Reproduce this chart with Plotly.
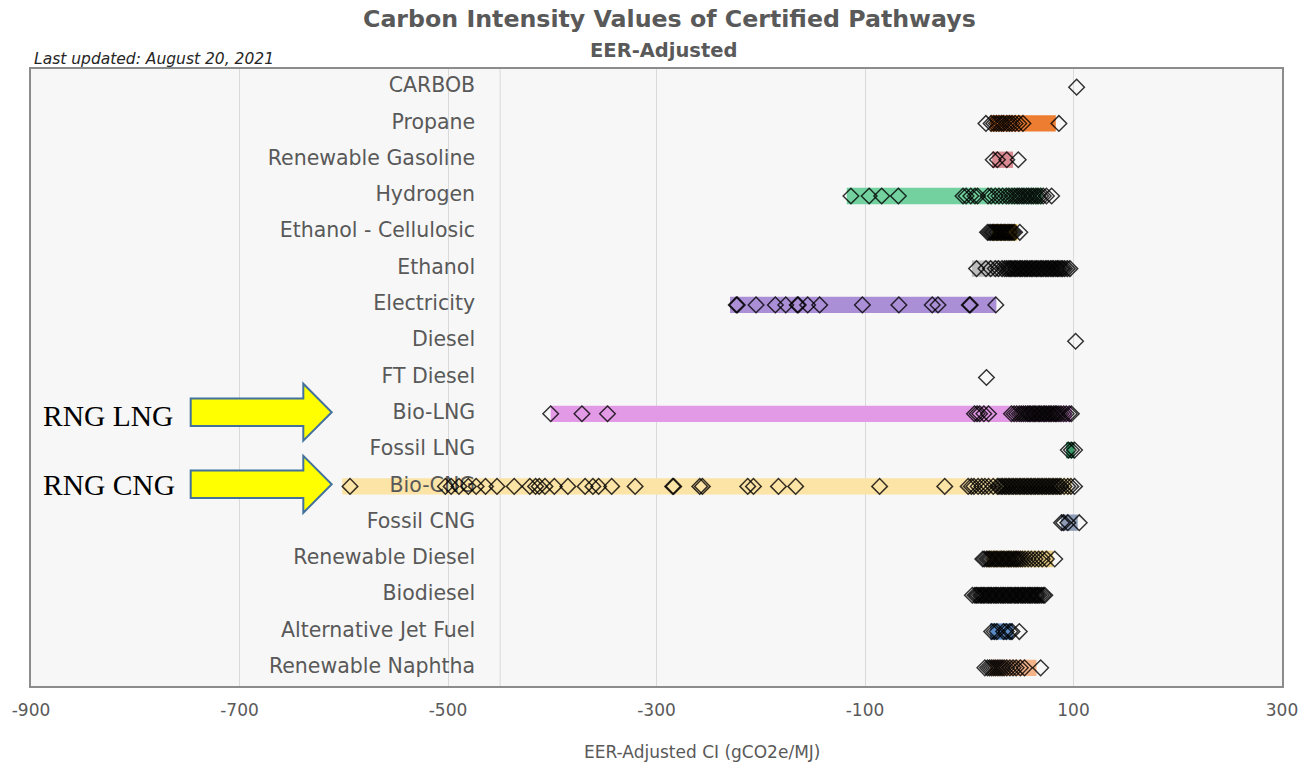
import plotly.graph_objects as go

# ---------------- data ----------------
categories = ["CARBOB", "Propane", "Renewable Gasoline", "Hydrogen", "Ethanol - Cellulosic",
              "Ethanol", "Electricity", "Diesel", "FT Diesel", "Bio-LNG", "Fossil LNG",
              "Bio-CNG", "Fossil CNG", "Renewable Diesel", "Biodiesel",
              "Alternative Jet Fuel", "Renewable Naphtha"]

bar_start = [None, 20, 22, -117.5, 22, 2.5, -229.5, None, None, -401.5, 93, -601.5, 88, 16.5, 4, 20, 20]
bar_end = [None, 83, 42, 70.5, 46, 98, 26, None, None, 98.5, 101, 98.5, 104, 80.5, 72, 42, 64.5]
bar_colors = [None, "#ED7D31", "#DA8A93", "#72D19F", "#E8B32A", "#BDBDBD", "#AA8ED6", None, None,
              "#E39AE6", "#3A9A6A", "#FCE3A6", "#8E9CB8", "#E9CC83", "#9A9A9A", "#5B8BC5", "#F3B48A"]

pts_carbob = [103]
pts_propane = [16, 21, 23.5, 26, 28.5, 31, 33, 36, 38.5, 41, 44, 47.5, 51.5, 86]
pts_ren_gasoline = [23, 27, 36, 47]
pts_hydrogen = [-113.5, -96, -84, -68, -6, -3, 1.5, 5.5, 8, 18, 21, 25, 28.5, 32, 35.5, 38, 41, 43.5,
                46, 48, 50.5, 52.5, 55, 57, 59.5, 61.5, 64, 66, 68.5, 71, 74, 79]
pts_eth_cellulosic = [17.5, 19, 20.5, 22, 23, 24.5, 26, 27, 28.5, 30, 31, 32.5, 34, 35, 36.5, 38, 39,
                      40.5, 42, 43.5, 48.5]
pts_ethanol = [7, 16, 20.5, 25, 28, 31.5, 34, 36, 38, 39.5, 41, 43, 44.5, 46, 48, 49.5, 51, 53, 54.5,
               56, 58, 59.5, 61, 63, 64.5, 66, 68, 69.5, 71, 73, 74.5, 76, 78, 79.5, 81, 83, 84.5,
               86, 88, 89.5, 91.5, 94, 96.5]
pts_electricity = [-223.5, -222.5, -204.5, -186, -176, -165, -164, -155, -143.5, -102.5, -67.5,
                   -35.5, -30, 0, 1, 25.5]
pts_diesel = [102]
pts_ft_diesel = [16.5]
pts_bio_lng = [-401.5, -371.5, -347, 5, 7.5, 10, 14, 18.5, 40.5, 43, 45.5, 48, 50, 52, 54, 56, 57.5,
               59, 61, 62.5, 64, 66, 67.5, 69, 71, 72.5, 74, 76, 77.5, 79, 81, 82.5, 84, 86, 88,
               90.5, 93, 96, 98]
pts_fossil_lng = [95, 98, 101]
pts_bio_cng = [-594, -502.5, -497, -489.5, -480.5, -473, -464, -453, -436.5, -421.5, -416, -412.5,
               -407, -398, -385, -368.5, -361, -355.5, -343, -320.5, -284.5, -283.5, -258.5, -256,
               -212.5, -207, -183, -166.5, -86, -23.5, -1, 2, 4.5, 8.5, 12, 15, 18.5, 23, 27, 28.5,
               30.5, 32, 34, 35.5, 37.5, 39, 41, 42.5, 44.5, 46, 48, 49.5, 51.5, 53, 55, 56.5, 58.5,
               60, 62, 63.5, 65.5, 67, 69, 70.5, 72.5, 74, 76, 77.5, 79.5, 81, 83, 84.5, 86.5, 88,
               91, 94.5, 97.5, 101]
pts_fossil_cng = [88.5, 90.5, 94.5, 105.5]
pts_ren_diesel = [13, 14.5, 16.5, 18, 19.5, 21, 23, 24.5, 26, 27.5, 29.5, 31, 32.5, 34, 36, 37.5, 39,
                  40.5, 42.5, 44, 45.5, 47, 49, 51, 53.5, 56.5, 59.5, 63, 66.5, 70, 74, 82]
pts_biodiesel = [3, 5.5, 7, 8.5, 10.5, 12, 13.5, 15, 17, 18.5, 20, 21.5, 23.5, 25, 26.5, 28, 30,
                 31.5, 33, 34.5, 36.5, 38, 39.5, 41, 43, 44.5, 46, 47.5, 49.5, 51, 52.5, 54, 56,
                 57.5, 59, 60.5, 62.5, 64, 65.5, 67, 69, 71, 72.5]
pts_ajf = [21.5, 24, 26.5, 33, 35.5, 39, 41, 48]
pts_ren_naphtha = [15, 17.5, 19.5, 21.5, 23.5, 25.5, 27.5, 29.5, 31.5, 33.5, 36, 39, 42, 45, 49, 53,
                   68.5]

point_lists = [pts_carbob, pts_propane, pts_ren_gasoline, pts_hydrogen, pts_eth_cellulosic,
               pts_ethanol, pts_electricity, pts_diesel, pts_ft_diesel, pts_bio_lng,
               pts_fossil_lng, pts_bio_cng, pts_fossil_cng, pts_ren_diesel, pts_biodiesel,
               pts_ajf, pts_ren_naphtha]

x_ticks = [-900, -700, -500, -300, -100, 100, 300]
x_tick_labels = ["-900", "-700", "-500", "-300", "-100", "100", "300"]

title_text = "Carbon Intensity Values of Certified Pathways"
subtitle_text = "EER-Adjusted"
updated_text = "Last updated: August 20, 2021"
x_title = "EER-Adjusted CI (gCO2e/MJ)"
label_x = -474
extra_line_x = -450

# ---------------- layout helpers ----------------
W, H = 1310, 763
ML, MR, MT, MB = 31, 28, 69, 77
PW = W - ML - MR
PH = H - MT - MB


def paper(px, py):
    return (px - ML) / PW, (H - MB - py) / PH


def arrow_path(x0, x1, tip, yc, sh, hh):
    pts = [(x0, yc - sh), (x1, yc - sh), (x1, yc - hh), (tip, yc), (x1, yc + hh),
           (x1, yc + sh), (x0, yc + sh)]
    s = ""
    for i, (a, b) in enumerate(pts):
        u, v = paper(a, b)
        s += ("M" if i == 0 else "L") + f"{u:.5f},{v:.5f} "
    return s + "Z"


GRAY = "#595959"
FONT = "DejaVu Sans"

fig = go.Figure()

# range bars
bi = [i for i, s in enumerate(bar_start) if s is not None]
fig.add_trace(go.Bar(
    y=[categories[i] for i in bi],
    x=[bar_end[i] - bar_start[i] for i in bi],
    base=[bar_start[i] for i in bi],
    orientation="h", width=0.45,
    marker=dict(color=[bar_colors[i] for i in bi], line=dict(width=0)),
    hoverinfo="skip", showlegend=False))

# category labels (drawn under the markers)
fig.add_trace(go.Scatter(
    x=[label_x] * len(categories), y=categories, mode="text", text=categories,
    textposition="middle left", textfont=dict(family=FONT, size=20.5, color=GRAY),
    hoverinfo="skip", showlegend=False))

# pathway points
xs, ys = [], []
for cat, pts in zip(categories, point_lists):
    xs.extend(pts)
    ys.extend([cat] * len(pts))
fig.add_trace(go.Scatter(
    x=xs, y=ys, mode="markers",
    marker=dict(symbol="diamond", size=12, color="rgba(0,0,0,0)",
                line=dict(color="rgba(0,0,0,0.8)", width=1.45)),
    showlegend=False))

shapes = [dict(type="line", xref="x", yref="paper", x0=extra_line_x, x1=extra_line_x, y0=0, y1=1,
               line=dict(color="#D9D9D9", width=1), layer="below")]
for yc in (412.2, 484.3):
    shapes.append(dict(type="path", xref="paper", yref="paper",
                       path=arrow_path(190.7, 303.3, 331.7, yc, 13.8, 28.5),
                       fillcolor="#FFFF00", line=dict(color="#41719C", width=2)))

annotations = []
tx, ty = paper(669, 19)
annotations.append(dict(text="<b>" + title_text + "</b>", x=tx, y=ty, xref="paper", yref="paper",
                        showarrow=False, xanchor="center", yanchor="middle",
                        font=dict(family=FONT, size=23.7, color=GRAY)))
tx, ty = paper(663, 50)
annotations.append(dict(text="<b>" + subtitle_text + "</b>", x=tx, y=ty, xref="paper", yref="paper",
                        showarrow=False, xanchor="center", yanchor="middle",
                        font=dict(family=FONT, size=19.5, color=GRAY)))
tx, ty = paper(32, 59)
annotations.append(dict(text="<i>" + updated_text + "</i>", x=tx, y=ty, xref="paper", yref="paper",
                        showarrow=False, xanchor="left", yanchor="middle",
                        font=dict(family=FONT, size=15.5, color="#262626")))
tx, ty = paper(702, 752)
annotations.append(dict(text=x_title, x=tx, y=ty, xref="paper", yref="paper",
                        showarrow=False, xanchor="center", yanchor="middle",
                        font=dict(family=FONT, size=17, color=GRAY)))
for label, py in (("RNG LNG", 415.7), ("RNG CNG", 485)):
    tx, ty = paper(41, py)
    annotations.append(dict(text=label, x=tx, y=ty, xref="paper", yref="paper",
                            showarrow=False, xanchor="left", yanchor="middle",
                            font=dict(family="Liberation Serif", size=29.5, color="#000000")))

fig.update_layout(
    width=W, height=H,
    margin=dict(l=ML, r=MR, t=MT, b=MB),
    paper_bgcolor="#FFFFFF", plot_bgcolor="#F7F7F7",
    xaxis=dict(range=[-900, 300], tickvals=x_ticks, ticktext=x_tick_labels,
               showgrid=True, gridcolor="#D9D9D9", gridwidth=1, zeroline=False,
               showline=True, linecolor="#8C8C8C", linewidth=1.5, mirror=True,
               ticks="", ticklabelstandoff=8, tickfont=dict(family=FONT, size=17, color=GRAY)),
    yaxis=dict(type="category", categoryorder="array", categoryarray=categories,
               range=[16.5, -0.5], showticklabels=False, showgrid=False, zeroline=False,
               showline=True, linecolor="#8C8C8C", linewidth=1.5, mirror=True, ticks=""),
    shapes=shapes, annotations=annotations, bargap=0.5,
)

fig.write_html("out.html", config={"displayModeBar": False},
               post_script="document.body.style.margin='0px';")
